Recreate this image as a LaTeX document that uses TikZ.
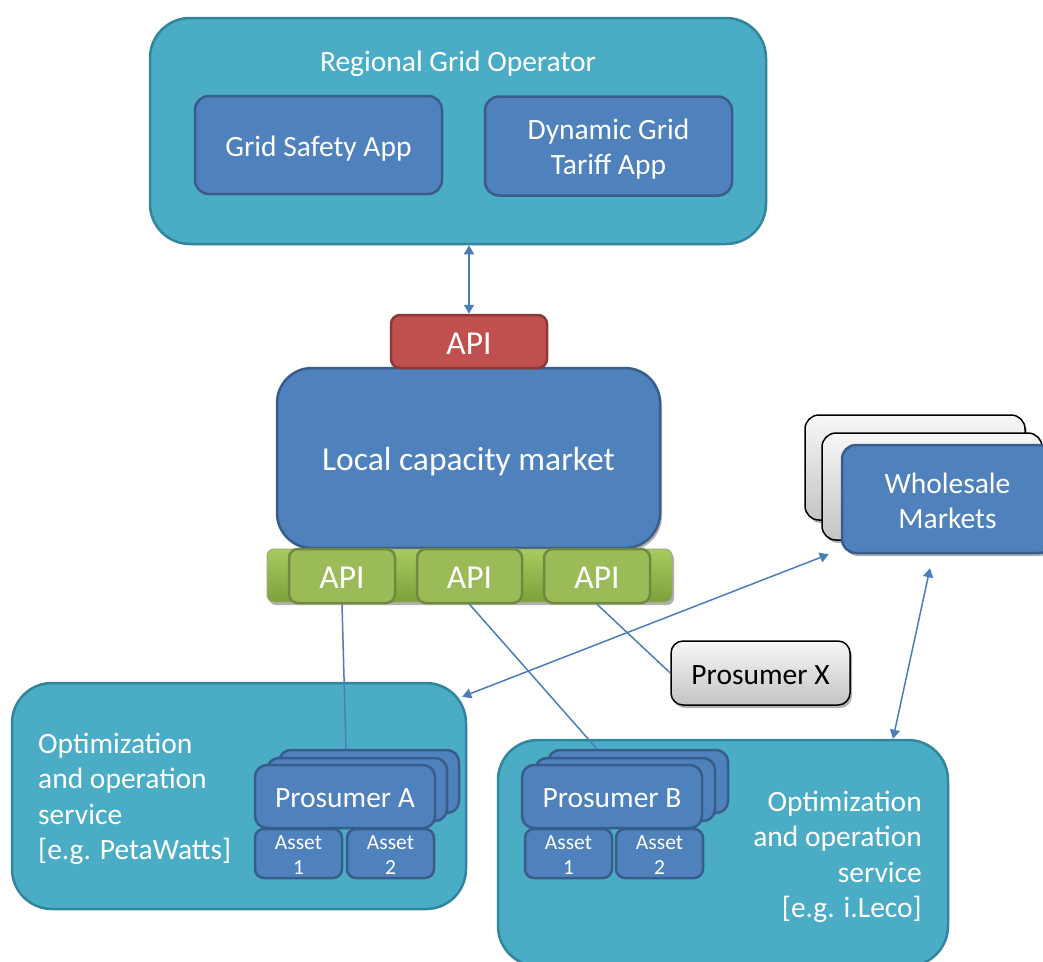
\documentclass[tikz,border=0pt]{standalone}
\usepackage{fontspec}
\setmainfont{Carlito}
\usetikzlibrary{arrows.meta,shadows}
\definecolor{tealF}{HTML}{4BACC6}
\definecolor{tealD}{HTML}{31859C}
\definecolor{blueF}{HTML}{4F81BD}
\definecolor{blueD}{HTML}{385D8A}
\definecolor{redF}{HTML}{C0504D}
\definecolor{redD}{HTML}{8C3836}
\definecolor{greenF}{HTML}{9BBB59}
\definecolor{greenD}{HTML}{71893F}
\definecolor{greenT}{HTML}{A6CC5E}
\definecolor{greenB}{HTML}{7EA03C}
\definecolor{grayT}{HTML}{F7F7F7}
\definecolor{grayB}{HTML}{C4C4C4}
\definecolor{lineC}{HTML}{4A7EBB}
\newcommand{\mainfs}{\fontsize{29.5}{35.5}\selectfont}
\newcommand{\bigfs}{\fontsize{33.5}{40}\selectfont}
\newcommand{\smallfs}{\fontsize{21.5}{25}\selectfont}
\tikzset{
  outerbox/.style={draw=tealD, fill=tealF, line width=2.5pt, rounded corners=40pt, inner sep=0pt},
  bluebox/.style={draw=blueD, fill=blueF, line width=2.5pt, rounded corners=14pt, text=white, inner sep=0pt, font=\mainfs, align=center},
  redbox/.style={draw=redD, fill=redF, line width=2.5pt, rounded corners=9pt, text=white, inner sep=0pt, font=\bigfs, oneB},
  greenbox/.style={draw=greenD, fill=greenF, line width=2.5pt, rounded corners=9pt, text=white, inner sep=0pt, font=\bigfs, oneB},
  graybox/.style={draw=black, top color=grayT, bottom color=grayB, line width=1.5pt, rounded corners=14pt, inner sep=0pt, font=\mainfs, oneM},
  asset/.style={draw=blueD, fill=blueF, line width=2.5pt, rounded corners=9pt, inner sep=0pt, minimum width=87pt, minimum height=49pt},
  assettext/.style={text=white, font=\smallfs, align=center, inner sep=0pt},
  pros/.style={draw=blueD, fill=blueF, line width=2.5pt, rounded corners=12pt, text=white, inner sep=0pt, font=\mainfs, oneM, minimum width=180pt, minimum height=63pt},
  wtext/.style={text=white, font=\mainfs, inner sep=0pt},
  oneM/.style={text height=28.3pt, text depth=6.2pt},
  oneB/.style={text height=31.3pt, text depth=6.2pt},
  link/.style={draw=lineC, line width=1.5pt},
  dlink/.style={draw=lineC, line width=1.5pt, {Triangle[length=9pt,width=10pt]}-{Triangle[length=9pt,width=10pt]}},
  shad/.style={drop shadow={shadow xshift=2pt, shadow yshift=-3pt, opacity=0.3, fill=black}}
}
\begin{document}
\begin{tikzpicture}[x=1pt,y=-1pt]
\useasboundingbox (0,0) rectangle (1043,961);
% Regional grid operator
\node[outerbox, minimum width=616pt, minimum height=226pt] (rgo) at (458,131) {};
\node[wtext, oneM] (rgoT) at (458,60) {Regional Grid Operator};
\node[bluebox, oneM, minimum width=247pt, minimum height=98pt] (gsa) at (318.5,145) {Grid Safety App};
\node[bluebox, minimum width=247pt, minimum height=99pt] (dgt) at (608.5,146) {};
\node[wtext, align=center] (dgtT) at (608.5,149) {Dynamic Grid\\Tariff App};
% local capacity market
\node[bluebox, shad, oneB, rounded corners=35pt, minimum width=383pt, minimum height=180pt, font=\bigfs] (lcm) at (468.5,458) {Local capacity market};
\node[redbox, minimum width=156pt, minimum height=53pt] (apiR) at (469,341.5) {API};
\node[shad, draw=greenD!70, line width=1pt, top color=greenT, bottom color=greenB, rounded corners=7pt, minimum width=405pt, minimum height=53pt, inner sep=0pt] (bar) at (469.5,575.5) {};
\node[greenbox, minimum width=106pt, minimum height=54pt] (api1) at (342,576) {API};
\node[greenbox, minimum width=105pt, minimum height=54pt] (api2) at (469.5,576) {API};
\node[greenbox, minimum width=106pt, minimum height=54pt] (api3) at (597,576) {API};
% wholesale markets
\node[graybox, shad, minimum width=220pt, minimum height=105pt] (wsB1) at (915,467.5) {};
\node[graybox, shad, minimum width=220pt, minimum height=107pt] (wsB2) at (932,486.5) {};
\node[bluebox, shad, minimum width=211pt, minimum height=108pt] (wsF) at (947.5,499) {};
\node[wtext, align=center] (wsT) at (947.5,501) {Wholesale\\Markets};
% prosumer X
\node[graybox, shad, rounded corners=12pt, minimum width=179pt, minimum height=64pt] (prosX) at (760.5,673) {Prosumer X};
% service boxes
\node[outerbox, minimum width=454pt, minimum height=226pt] (svcL) at (239,796) {};
\node[wtext, anchor=west, align=left] (svcLT) at (38,799) {Optimization\\and operation\\service\\{[e.g. PetaWatts]}};
\node[outerbox, minimum width=450pt, minimum height=226pt] (svcR) at (723,853) {};
\node[wtext, anchor=east, align=right] (svcRT) at (922,857) {Optimization\\and operation\\service\\{[e.g. i.Leco]}};
% connectors
\draw[dlink] (apiR.north |- rgo.south) -- (apiR.north);
\coordinate (pAtop) at (346,750);
\coordinate (pBtop) at (597,749);
\draw[link] (api1.south) -- (pAtop);
\draw[link] (api2.south) -- (pBtop);
\draw[link] (api3.south) -- (prosX.west);
\draw[dlink] ([shift={(-5pt,-15pt)}]svcL.north east) -- ([shift={(-12pt,0pt)}]wsF.south west);
\draw[dlink] ([shift={(-17.5pt,-14pt)}]wsF.south) -- ([xshift=170pt]svcR.north);
% prosumer A stack
\node[pros] (pAb) at (369,781.5) {};
\node[pros] (pAm) at (357,789.5) {};
\node[pros] (pA) at (345,796.5) {Prosumer A};
\node[asset] (a1) at (298.5,853.5) {};
\node[assettext] (a1T) at (298.5,855.5) {Asset\\1};
\node[asset] (a2) at (390.5,853.5) {};
\node[assettext] (a2T) at (390.5,855.5) {Asset\\2};
% prosumer B stack
\node[pros] (pBb) at (638,781.5) {};
\node[pros] (pBm) at (625,789.5) {};
\node[pros] (pB) at (612,796.5) {Prosumer B};
\node[asset] (b1) at (568.5,853.5) {};
\node[assettext] (b1T) at (568.5,855.5) {Asset\\1};
\node[asset] (b2) at (659.5,853.5) {};
\node[assettext] (b2T) at (659.5,855.5) {Asset\\2};
\end{tikzpicture}
\end{document}
